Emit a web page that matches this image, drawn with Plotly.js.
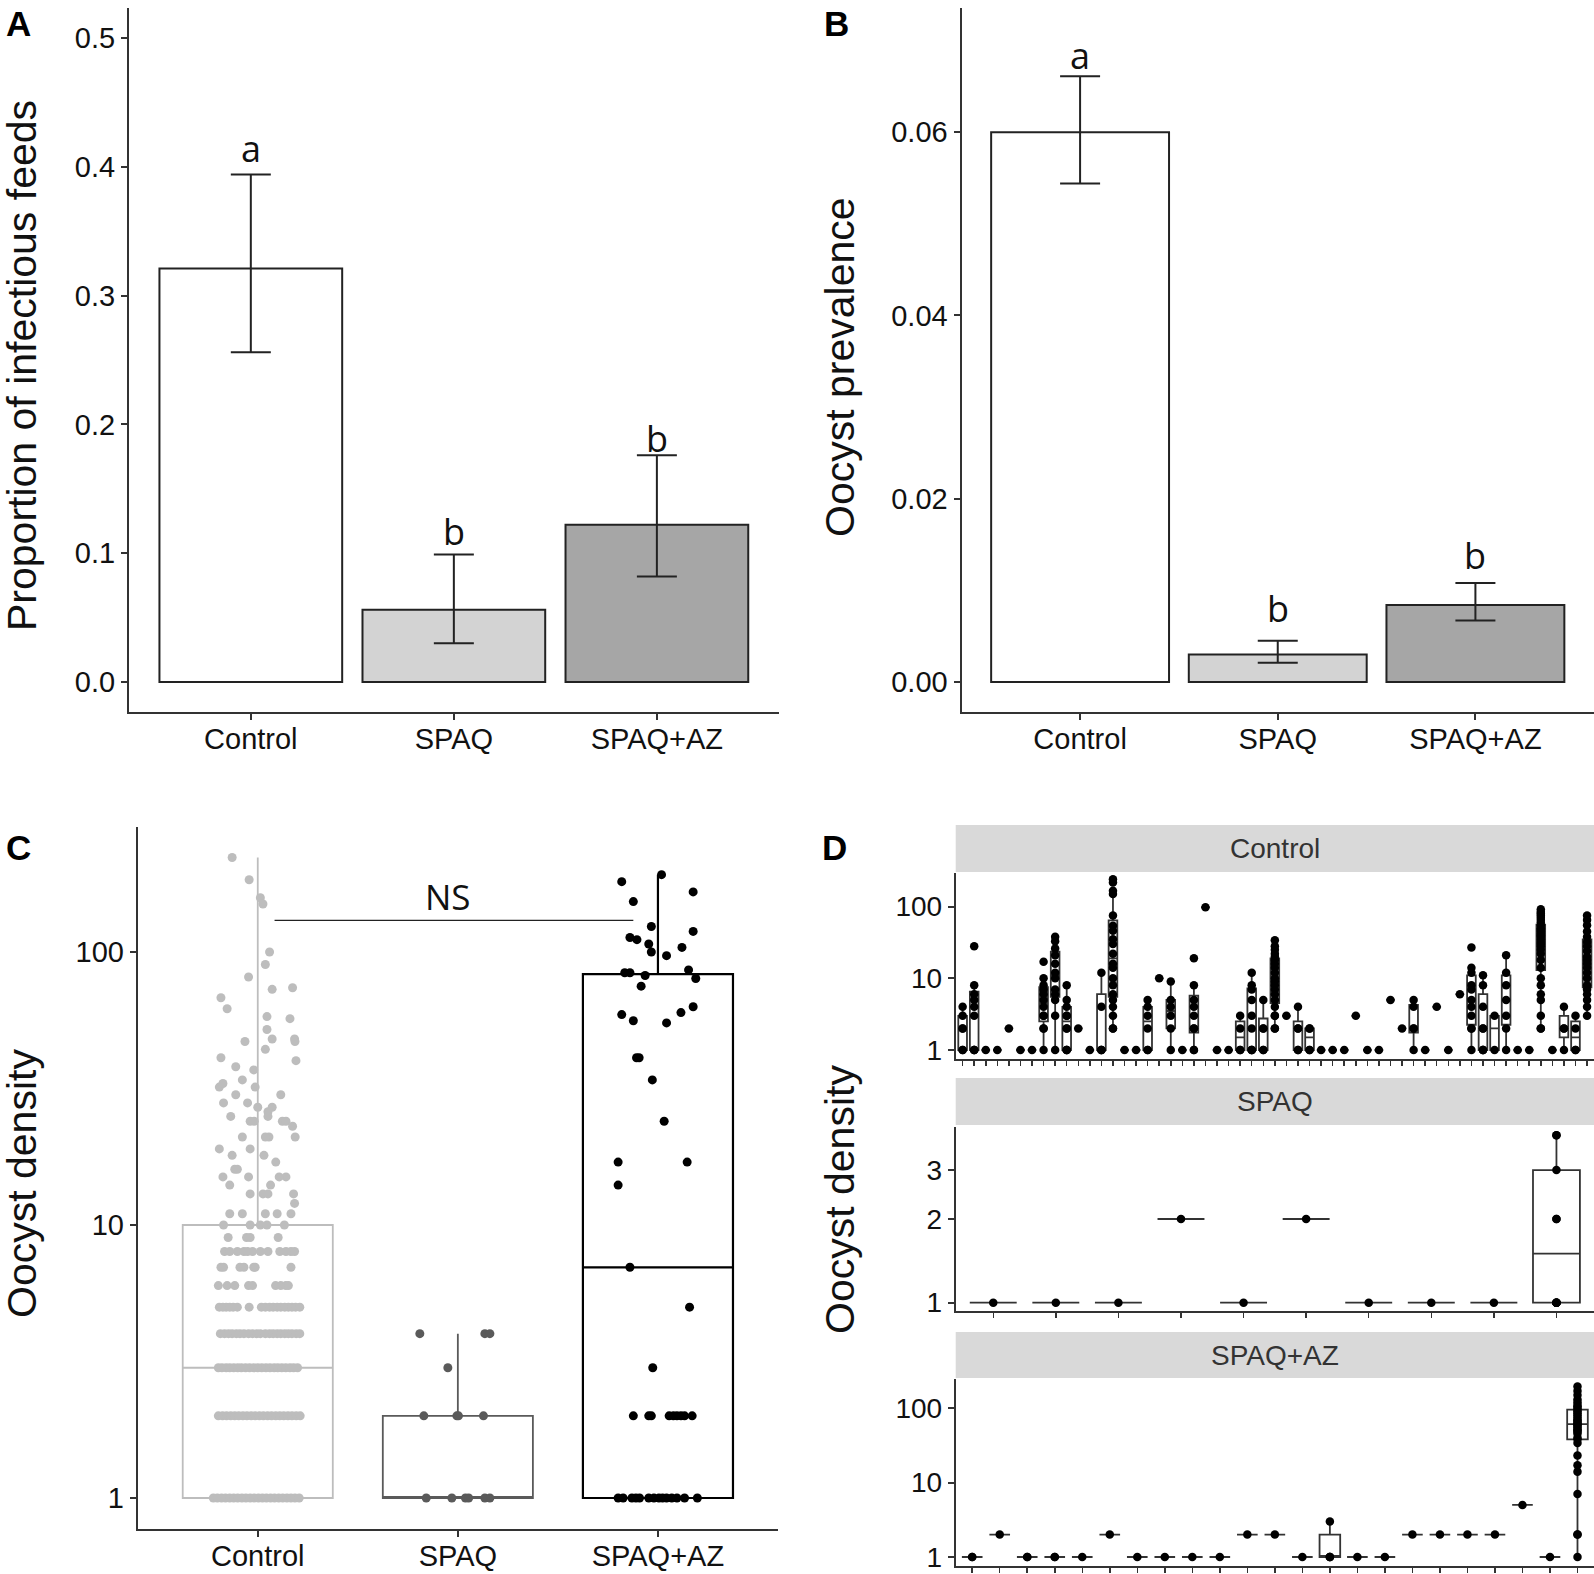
<!DOCTYPE html>
<html><head><meta charset="utf-8">
<script src="https://cdn.plot.ly/plotly-3.0.1.min.js"></script>
<style>html,body{margin:0;padding:0;background:#fff}#chart{width:1594px;height:1574px}</style>
</head><body><div id="chart"></div>
<script>
const W = 1594, H = 1574;

// ---------- shared categories ----------
const groups = ['Control', 'SPAQ', 'SPAQ+AZ'];
const barFill = ['#ffffff', '#d3d3d3', '#a6a6a6'];

// ---------- Panel A: proportion of infectious feeds ----------
const propMean = [0.321, 0.056, 0.122];
const propLo = [0.256, 0.030, 0.082];
const propHi = [0.394, 0.099, 0.176];
const propLetters = ['a', 'b', 'b'];
const propLetterY = [0.414, 0.117, 0.189];
const propTicks = [0, 0.1, 0.2, 0.3, 0.4, 0.5];
const propTickText = ['0.0', '0.1', '0.2', '0.3', '0.4', '0.5'];

// ---------- Panel B: oocyst prevalence ----------
const prevMean = [0.0600, 0.0030, 0.0084];
const prevLo = [0.0544, 0.0021, 0.0067];
const prevHi = [0.0661, 0.0045, 0.0108];
const prevLetters = ['a', 'b', 'b'];
const prevLetterY = [0.0684, 0.0080, 0.0138];
const prevTicks = [0, 0.02, 0.04, 0.06];
const prevTickText = ['0.00', '0.02', '0.04', '0.06'];

// ---------- Panel C: oocyst density by arm ----------
const densTicks = [1, 10, 100];
const densTickText = ['1', '10', '100'];
const boxQ1 = [1, 1, 1];
const boxMedian = [3, 1, 7];
const boxQ3 = [10, 2, 83];
const boxLow = [1, 1, 1];
const boxHigh = [222, 4, 192];
const boxColors = ['#bdbdbd', '#5a5a5a', '#000000'];
// [value, jitter offset]
const ctrlSparse = [[222,-0.128],[184,-0.043],[158,0.013],[150,0.026],[100,0.059],[90,0.038],[81,-0.046],[73,0.072],[74,0.174],[68,-0.184],[62,-0.153],[58,0.046],[57,0.161],[52,0.046],[47,-0.064],[48,0.072],[44,0.038],[48,0.184],[47,0.186],[41,-0.184],[40,0.191],[38,-0.110],[37,-0.020],[32,-0.192],[33,-0.174],[34,-0.077],[32,-0.013],[30,0.115],[30,-0.110],[28,-0.171],[28,-0.051],[27,0.000],[27,0.072],[26,0.051],[25,-0.135],[24,-0.038],[24,-0.018],[25,0.051],[24,0.123],[24,0.141],[21,-0.077],[21,0.056],[21,0.038],[23,0.174],[21,0.187],[19,-0.192],[19,-0.038],[18,-0.128],[18,0.031],[17,0.090],[16,-0.115],[16,-0.102],[15,-0.046],[15,0.141],[15,-0.174],[14,-0.140],[14,0.064],[15,0.107],[13,-0.038],[13,0.026],[13,0.051],[13,0.179],[12,0.184],[11,-0.140],[11,-0.077],[11,0.038],[11,0.097],[11,0.166],[10,-0.171],[10,-0.038],[10,0.013],[10,0.046],[10,0.133],[9,-0.148],[9,-0.056],[9,-0.038],[9,0.102]];
const ctrlRowVals = [8, 7, 6, 5, 4, 3, 2, 1];
const ctrlRowOffsets = [
  [-0.166,-0.140,-0.102,-0.069,-0.051,-0.026,0.013,0.051,0.110,0.141,0.166,0.184],
  [-0.184,-0.171,-0.089,-0.069,-0.020,-0.013,0.166],
  [-0.197,-0.153,-0.115,-0.046,-0.026,0.089,0.115,0.140,0.153],
  [-0.192,-0.174,-0.158,-0.140,-0.123,-0.102,-0.043,0.018,0.038,0.059,0.077,0.097,0.115,0.135,0.153,0.171,0.189,0.210],
  [-0.187,-0.166,-0.146,-0.128,-0.107,-0.089,-0.069,-0.046,-0.026,-0.005,0.013,0.038,0.059,0.077,0.097,0.115,0.135,0.153,0.171,0.192,0.210],
  [-0.197,-0.179,-0.158,-0.140,-0.120,-0.100,-0.082,-0.061,-0.041,-0.020,0.000,0.020,0.041,0.061,0.082,0.100,0.120,0.140,0.161,0.179,0.199],
  [-0.197,-0.176,-0.156,-0.135,-0.115,-0.095,-0.074,-0.054,-0.033,-0.013,0.008,0.028,0.049,0.069,0.090,0.110,0.130,0.151,0.171,0.192,0.212],
  [-0.222,-0.202,-0.181,-0.161,-0.140,-0.120,-0.100,-0.079,-0.059,-0.038,-0.018,0.003,0.023,0.043,0.064,0.084,0.105,0.125,0.146,0.166,0.186,0.207]
];
const spaqPts = [[4,-0.19],[4,0.135],[4,0.16],[3,-0.05],[2,-0.17],[2,-0.005],[2,0.003],[2,0.128],[1,-0.158],[1,-0.03],[1,0.038],[1,0.054],[1,0.135],[1,0.16]];
const spaqazPts = [[192,0.018],[181,-0.181],[166,0.176],[153,-0.123],[124,-0.033],[119,0.176],[113,-0.140],[111,-0.105],[107,-0.046],[104,0.120],[100,-0.033],[97,0.043],[84,-0.166],[84,-0.140],[82,-0.064],[86,0.153],[80,0.189],[75,-0.084],[63,0.176],[60,0.115],[59,-0.181],[56,-0.123],[55,0.043],[41,-0.107],[41,-0.094],[34,-0.028],[24,0.031],[17,-0.199],[17,0.146],[14,-0.199],[7,-0.140],[5,0.158],[3,-0.026],
  [2,-0.123],[2,-0.046],[2,-0.033],[2,0.056],[2,0.077],[2,0.095],[2,0.115],[2,0.133],[2,0.171],
  [1,-0.199],[1,-0.174],[1,-0.130],[1,-0.110],[1,-0.092],[1,-0.046],[1,-0.020],[1,0.005],[1,0.023],[1,0.043],[1,0.069],[1,0.095],[1,0.133],[1,0.197]];
const nsFrom = 0.084, nsTo = 1.877, nsY = 130.6, nsLabelX = 0.95, nsLabelY = 160;

// ---------- Panel D: oocyst density per feed, faceted ----------
const dCtrlFeeds = [
  [1,1,2,2,3,4],[1,1,1,3,4,5,6,8,28],[1],[1],[2],[1],[1],
  [1,2,2,3,3,4,5,6,7,8,10,17],[1,3,5,6,7,10,12,16,21,26,33,38],[1,1,1,2,2,3,3,4,5,8],
  [2],[1],[1,1,1,4,12],[2,2,3,4,5,6,8,10,14,16,22,30,35,46,54,75,150,166,217,240],
  [1],[1],[1,1,2,3,4,5],[10],[1,2,3,4,5,9],[1],[1,1,2,2,3,4,5,8,19],[98],[1],[1],
  [1,1,2,3],[1,1,1,2,3,5,7,8,12],[1,1,2,2,5],[2,2,3,3,4,5,6,7,8,9,10,12,14,16,18,20,22,25,28,34],
  [3],[1,1,2,2,4],[1,1,2,2],[1],[1],[1],[3],[1],[1],[5],[2],[1,2,2,4,5],[1],[4],[1],[6],
  [1,2,2,3,4,5,7,8,12,14,27],[1,1,1,2,2,4,8,11],[1,3],[1,2,3,5,8,12,21],[1],[1],
  [2,2,3,5,6,8,10,14,18,22,25,28,30,32,35,38,40,42,45,48,50,55,60,65,70,75,80,85,92],
  [1],[1,2,2,4],[1,1,2,3],
  [3,4,5,6,7,8,10,12,14,16,18,20,24,28,32,38,45,55,65,75]
];
const dSpaqFeeds = [[1],[1],[1],[2],[1],[2],[1],[1],[1],[1,1,1,1,1,2,2,3,4,4]];
const dSpaqazFeeds = [[1,1],[2],[1,1],[1,1],[1],[2],[1],[1],[1],[1],[2],[2],[1],[1,1,1,3],[1],[1],[2],[2],[2],[2],[5],[1],
  [1,2,2,7,14,17,23,34,38,40,45,48,50,52,55,58,60,62,65,68,70,75,80,85,90,95,100,105,110,120,130,150,170,195]];
const spaqTicks = [1, 2, 3];
const spaqTickText = ['1', '2', '3'];
const facetNames = ['Control', 'SPAQ', 'SPAQ+AZ'];

// ---------- helpers ----------
const px = v => v / W;
const py = v => 1 - v / H;
const sans = 'Liberation Sans, Arial, Helvetica, sans-serif';
const humanist = 'Open Sans, Noto Sans, sans-serif';
const axBase = {
  showline: true, linecolor: '#333', linewidth: 2, ticks: 'outside', ticklen: 6, tickwidth: 2,
  tickcolor: '#333', showgrid: false, zeroline: false, fixedrange: true, automargin: false,
  tickfont: { family: sans, size: 29, color: '#111' }
};
function ax(extra) { return Object.assign({}, axBase, extra); }
function note(o) { return Object.assign({ showarrow: false, xanchor: 'center', yanchor: 'middle' }, o); }

const traces = [];
const annotations = [];
const shapes = [];

// Bars A and B
function barPanel(mean, lo, hi, xa, ya) {
  traces.push({
    type: 'bar', x: [0, 1, 2], y: mean, width: 0.9, xaxis: xa, yaxis: ya,
    marker: { color: barFill, line: { color: '#222', width: 2 } },
    error_y: { type: 'data', symmetric: false,
      array: hi.map((h, i) => h - mean[i]), arrayminus: mean.map((m, i) => m - lo[i]),
      color: '#222', thickness: 2, width: 20 },
    hoverinfo: 'skip'
  });
}
barPanel(propMean, propLo, propHi, 'x', 'y');
barPanel(prevMean, prevLo, prevHi, 'x2', 'y2');
propLetters.forEach((t, i) => annotations.push(note({ xref: 'x', yref: 'y', x: i, y: propLetterY[i], text: t, font: { family: humanist, size: 36, color: '#111' } })));
prevLetters.forEach((t, i) => annotations.push(note({ xref: 'x2', yref: 'y2', x: i, y: prevLetterY[i], text: t, font: { family: humanist, size: 36, color: '#111' } })));

// Panel C boxes
groups.forEach((g, i) => {
  traces.push({
    type: 'box', x: [i], q1: [boxQ1[i]], median: [boxMedian[i]], q3: [boxQ3[i]],
    lowerfence: [boxLow[i]], upperfence: [boxHigh[i]], width: 0.75, whiskerwidth: 0,
    boxpoints: false, line: { color: boxColors[i], width: i === 2 ? 2.2 : 1.8 },
    fillcolor: 'rgba(0,0,0,0)', xaxis: 'x3', yaxis: 'y3', hoverinfo: 'skip'
  });
});
// Panel C points
const cx = [], cy = [];
ctrlSparse.forEach(p => { cx.push(0 + p[1]); cy.push(p[0]); });
ctrlRowVals.forEach((v, r) => ctrlRowOffsets[r].forEach(o => { cx.push(0 + o); cy.push(v); }));
traces.push({ type: 'scatter', mode: 'markers', x: cx, y: cy, xaxis: 'x3', yaxis: 'y3', marker: { color: boxColors[0], size: 9 }, hoverinfo: 'skip' });
traces.push({ type: 'scatter', mode: 'markers', x: spaqPts.map(p => 1 + p[1]), y: spaqPts.map(p => p[0]), xaxis: 'x3', yaxis: 'y3', marker: { color: boxColors[1], size: 9 }, hoverinfo: 'skip' });
traces.push({ type: 'scatter', mode: 'markers', x: spaqazPts.map(p => 2 + p[1]), y: spaqazPts.map(p => p[0]), xaxis: 'x3', yaxis: 'y3', marker: { color: boxColors[2], size: 9 }, hoverinfo: 'skip' });
traces.push({ type: 'scatter', mode: 'lines', x: [nsFrom, nsTo], y: [nsY, nsY], xaxis: 'x3', yaxis: 'y3', line: { color: '#222', width: 1.3 }, hoverinfo: 'skip' });
annotations.push(note({ xref: 'x3', yref: 'y3', x: nsLabelX, y: Math.log10(nsLabelY), text: 'NS', font: { family: humanist, size: 35, color: '#111' } }));

// Panel D facets
function facetTrace(data, xa, ya) {
  const x = [], y = [];
  data.forEach((vals, i) => vals.forEach(v => { x.push(i + 1); y.push(v); }));
  return { type: 'box', x, y, xaxis: xa, yaxis: ya, width: 0.75, whiskerwidth: 0,
    boxpoints: 'all', jitter: 0, pointpos: 0, marker: { color: '#000', size: 8.5 },
    line: { color: '#333', width: 1.8 }, fillcolor: '#ffffff', hoverinfo: 'skip' };
}
traces.push(facetTrace(dCtrlFeeds, 'x4', 'y4'));
traces.push(facetTrace(dSpaqFeeds, 'x5', 'y5'));
traces.push(facetTrace(dSpaqazFeeds, 'x6', 'y6'));

const dLeft = 955.7;
const dPanels = [
  { top: 873, bottom: 1059, stripTop: 825, stripBot: 872 },
  { top: 1127, bottom: 1311, stripTop: 1078, stripBot: 1125 },
  { top: 1379, bottom: 1566, stripTop: 1332, stripBot: 1378 }
];
dPanels.forEach((p, i) => {
  shapes.push({ type: 'rect', xref: 'paper', yref: 'paper', x0: px(dLeft), x1: 1, y0: py(p.stripBot), y1: py(p.stripTop), fillcolor: '#d9d9d9', line: { width: 0 }, layer: 'below' });
  annotations.push(note({ xref: 'paper', yref: 'paper', x: px((dLeft + W) / 2), y: py((p.stripTop + p.stripBot) / 2), text: facetNames[i], font: { family: sans, size: 28, color: '#333' } }));
});

// Axis titles
const titleFont = { family: sans, size: 41, color: '#111' };
[
  { x: 22, y: 366, t: 'Proportion of infectious feeds' },
  { x: 840, y: 367, t: 'Oocyst prevalence' },
  { x: 22, y: 1184, t: 'Oocyst density' },
  { x: 840, y: 1200, t: 'Oocyst density' }
].forEach(a => annotations.push(note({ xref: 'paper', yref: 'paper', x: px(a.x), y: py(a.y), text: a.t, textangle: -90, font: titleFont })));

// Panel letters
[['A', 18, 23], ['B', 836, 23], ['C', 18, 847], ['D', 834, 847]].forEach(l => annotations.push(note({ xref: 'paper', yref: 'paper', x: px(l[1]), y: py(l[2]), text: '<b>' + l[0] + '</b>', font: { family: sans, size: 35, color: '#000' } })));

const catAxis = { range: [-0.6, 2.6], tickvals: [0, 1, 2], ticktext: groups, ticklabelstandoff: -6 };
const dTickFont = { family: sans, size: 28, color: '#111' };
const layout = {
  width: W, height: H, margin: { l: 0, r: 0, t: 0, b: 0 }, showlegend: false,
  paper_bgcolor: '#fff', plot_bgcolor: 'rgba(0,0,0,0)', boxmode: 'overlay', bargap: 0,
  font: { family: sans },
  xaxis: ax(Object.assign({ domain: [px(129), px(778.7)], anchor: 'y' }, catAxis)),
  yaxis: ax({ domain: [py(712), py(8)], range: [-0.0233, 0.5233], tickvals: propTicks, ticktext: propTickText, anchor: 'x' }),
  xaxis2: ax(Object.assign({ domain: [px(961.5), 1], anchor: 'y2' }, catAxis)),
  yaxis2: ax({ domain: [py(712), py(8)], range: [-0.00328, 0.07355], tickvals: prevTicks, ticktext: prevTickText, anchor: 'x2' }),
  xaxis3: ax(Object.assign({ domain: [px(137.7), px(778)], anchor: 'y3' }, catAxis)),
  yaxis3: ax({ domain: [py(1529), py(827)], type: 'log', range: [-0.1136, 2.458], tickvals: densTicks, ticktext: densTickText, anchor: 'x3' }),
  xaxis4: ax({ domain: [px(dLeft), 1], range: [0.4, dCtrlFeeds.length + 0.6], tickvals: dCtrlFeeds.map((d, i) => i + 1), showticklabels: false, ticklen: 5, tickwidth: 1.5, anchor: 'y4' }),
  yaxis4: ax({ domain: [py(1059), py(873)], type: 'log', range: [-0.1255, 2.469], tickvals: densTicks, ticktext: densTickText, anchor: 'x4', tickfont: dTickFont }),
  xaxis5: ax({ domain: [px(dLeft), 1], range: [0.4, dSpaqFeeds.length + 0.6], tickvals: dSpaqFeeds.map((d, i) => i + 1), showticklabels: false, ticklen: 5, tickwidth: 1.5, anchor: 'y5' }),
  yaxis5: ax({ domain: [py(1311), py(1127)], type: 'log', range: [-0.030, 0.632], tickvals: spaqTicks, ticktext: spaqTickText, anchor: 'x5', tickfont: dTickFont }),
  xaxis6: ax({ domain: [px(dLeft), 1], range: [0.4, dSpaqazFeeds.length + 0.6], tickvals: dSpaqazFeeds.map((d, i) => i + 1), showticklabels: false, ticklen: 5, tickwidth: 1.5, anchor: 'y6' }),
  yaxis6: ax({ domain: [py(1566), py(1379)], type: 'log', range: [-0.121, 2.39], tickvals: densTicks, ticktext: densTickText, anchor: 'x6', tickfont: dTickFont }),
  annotations, shapes
};
Plotly.newPlot('chart', traces, layout, { staticPlot: true, displayModeBar: false });
</script></body></html>
